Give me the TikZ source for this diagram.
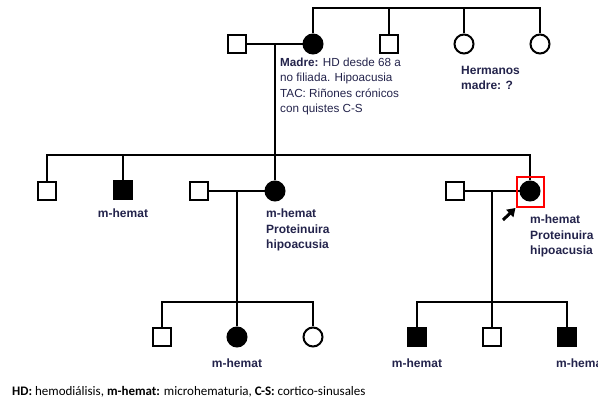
\documentclass[tikz,border=0pt]{standalone}
\usepackage{fontspec}
\setmainfont{Liberation Sans}
\newfontfamily\calib{Carlito}
\usetikzlibrary{arrows.meta}
\definecolor{navy}{RGB}{35,35,75}
\begin{document}
\begin{tikzpicture}[x=1pt,y=-1pt,
  ln/.style={line width=2.4pt,black},
  male/.style={draw,line width=2pt,fill=white,minimum size=18.5pt,inner sep=0pt,rectangle},
  female/.style={draw,line width=2pt,fill=white,minimum size=19pt,inner sep=0pt,circle},
  aff/.style={fill=black},
  lbl/.style={text=navy,font=\fontsize{12}{15.5}\selectfont\bfseries,inner sep=0pt,align=left},
  note/.style={text=navy,font=\fontsize{11.7}{15.3}\selectfont,inner sep=0pt,align=left}]
\useasboundingbox (0,0) rectangle (598,401);
% generation I
\coordinate (top) at (313,8);
\coordinate (topR) at (540,8);
\node[male] (gf) at (237,44) {};
\node[female,aff] (madre) at (313,44) {};
\node[male] (u1) at (389,44) {};
\node[female] (a1) at (464,44) {};
\node[female] (a2) at (540,44) {};
\draw[ln] (madre.north) -- (top) -- (topR) -- (a2.north);
\draw[ln] (u1.north) -- (u1.north |- top);
\draw[ln] (a1.north) -- (a1.north |- top);
\draw[ln] (gf) -- (madre);
\coordinate (d1) at (275,44);
\coordinate (s2) at (275,155);
\draw[ln] (d1) -- (s2);
\node[note,anchor=north west] (mtxt) at (280,58) {\textbf{Madre:} HD desde 68 a\\no filiada. Hipoacusia\\TAC: Riñones crónicos\\con quistes C-S};
\node[lbl,anchor=north west] (herm) at (461,66) {Hermanos\\madre: ?};
% generation II
\node[male] (c1) at (47,191) {};
\node[male,aff] (c2) at (123,190) {};
\node[male] (sp1) at (199,191) {};
\node[female,aff] (c3) at (275,191) {};
\node[male] (sp2) at (455,191) {};
\node[female,aff] (pb) at (530,191) {};
\coordinate (s2L) at (47,155);
\coordinate (s2R) at (530,155);
\draw[ln] (c1.north) -- (s2L) -- (s2R) -- (pb.north);
\draw[ln] (c2.north) -- (c2.north |- s2L);
\draw[ln] (c3.north) -- (c3.north |- s2L);
\draw[ln] (sp1) -- (c3);
\draw[ln] (sp2) -- (pb);
\node[draw=red,line width=2pt,minimum width=27pt,minimum height=30pt,inner sep=0pt] (box) at (530,192) {};
\coordinate (arr) at (503,220);
\draw[line width=3pt,-{Triangle[length=8pt,width=10pt]}] (arr) -- (box.south west);
\node[lbl,anchor=north] (l2) at (123,209) {m-hemat};
\node[lbl,anchor=north west] (l3) at (266,209) {m-hemat\\Proteinuira\\hipoacusia};
\node[lbl,anchor=north west] (l4) at (530,215) {m-hemat\\Proteinuira\\hipoacusia};
% generation III left
\coordinate (dL) at (237,191);
\coordinate (s3L) at (237,302);
\draw[ln] (dL) -- (s3L);
\node[male] (g1) at (162,337) {};
\node[female,aff] (g2) at (237,337) {};
\node[female] (g3) at (313,337) {};
\draw[ln] (g1.north) -- (g1.north |- s3L) -- (g3.north |- s3L) -- (g3.north);
\draw[ln] (g2.north) -- (s3L);
\node[lbl,anchor=north] (l5) at (237,359) {m-hemat};
% generation III right
\coordinate (dR) at (492,191);
\coordinate (s3R) at (492,302);
\draw[ln] (dR) -- (s3R);
\node[male,aff] (h1) at (417,337) {};
\node[male] (h2) at (492,337) {};
\node[male,aff] (h3) at (567,337) {};
\draw[ln] (h1.north) -- (h1.north |- s3R) -- (h3.north |- s3R) -- (h3.north);
\draw[ln] (h2.north) -- (s3R);
\node[lbl,anchor=north] (l6) at (417,359) {m-hemat};
\node[lbl,anchor=north west] (l7) at (556,359) {m-hemat};
% footer
\node[anchor=west,inner sep=0pt,font=\calib\fontsize{13}{15}\selectfont] (foot) at (12,392) {\textbf{HD:} hemodiálisis, \textbf{m-hemat:} microhematuria, \textbf{C-S:} cortico-sinusales};
\end{tikzpicture}
\end{document}
